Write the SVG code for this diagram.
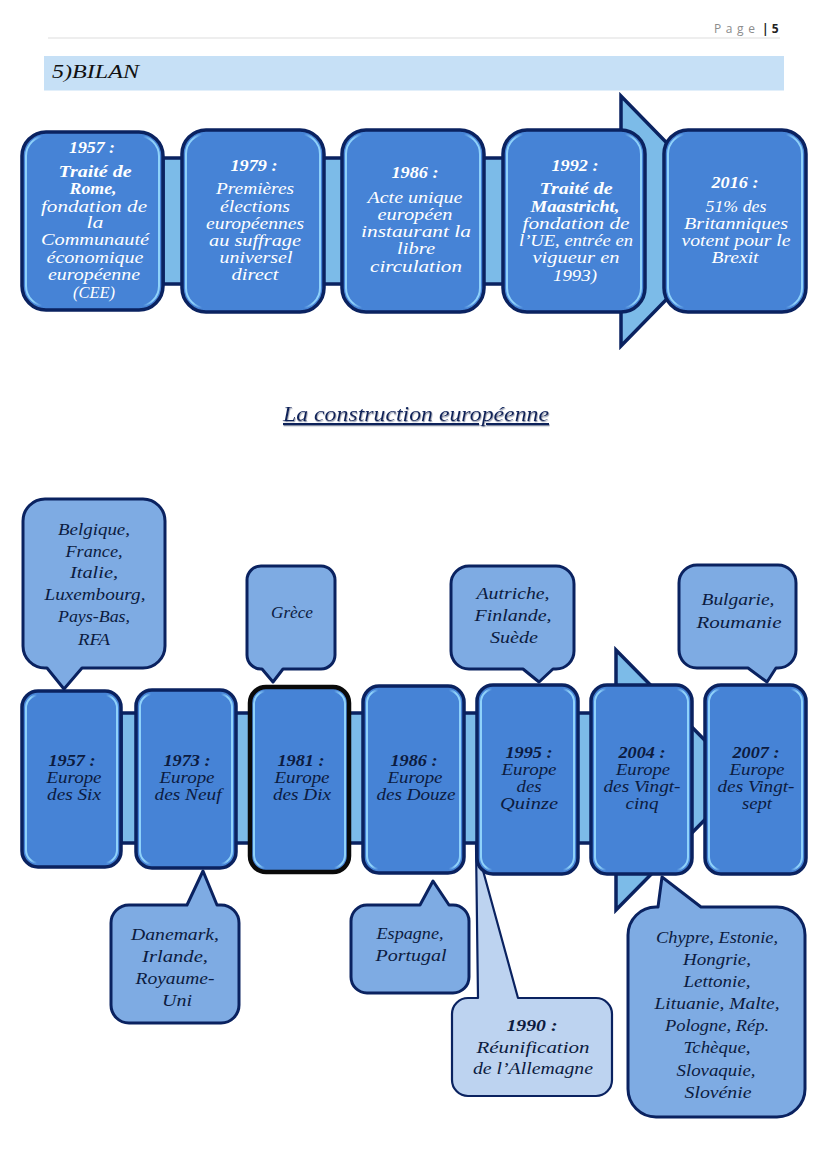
<svg xmlns="http://www.w3.org/2000/svg" width="828" height="1171" viewBox="0 0 828 1171">
<style>
text{font-family:"Liberation Serif","DejaVu Serif",serif;font-style:italic;font-size:16px;text-anchor:middle}
.w{fill:#fff}
.d{fill:#0c1b3f}
.b{font-weight:bold}
.box{fill:#4683d6;stroke:#0a2260;stroke-width:3.5}
.blk{fill:#4683d6;stroke:#0a0a0a;stroke-width:4.5}
.hl{fill:none;stroke:url(#bevel);stroke-width:2}
.bar{fill:#7cbbe8;stroke:#0a2260;stroke-width:3.5;stroke-linejoin:miter}
.co{fill:#7eabe3;stroke:#0a2260;stroke-width:3;stroke-linejoin:round}
.co2{fill:#bdd3f0;stroke:#0a2260;stroke-width:2.2;stroke-linejoin:round}
.hd{font-family:"Open Sans","Liberation Sans",sans-serif;font-style:normal;font-size:12px;text-anchor:start}
</style>
<defs>
<linearGradient id="bevel" x1="0" y1="0" x2="1" y2="0">
<stop offset="0" stop-color="#8fd2fa"/><stop offset="0.05" stop-color="#8fd2fa"/><stop offset="0.12" stop-color="#8fd2fa" stop-opacity="0"/>
<stop offset="0.88" stop-color="#8fd2fa" stop-opacity="0"/><stop offset="0.95" stop-color="#8fd2fa"/><stop offset="1" stop-color="#8fd2fa"/>
</linearGradient>
<filter id="sh" x="-5%" y="-30%" width="110%" height="160%"><feDropShadow dx="0.6" dy="1.2" stdDeviation="0.5" flood-color="#8a93a8"/></filter>
</defs>

<g id="header">
<line x1="48" y1="38" x2="780" y2="38" stroke="#e8e8e8" stroke-width="1.5"/>
<text class="hd" x="714" y="33" fill="#8c8c8c" textLength="41" lengthAdjust="spacing">Page</text>
<text class="hd" x="762" y="33" fill="#222" style="font-weight:bold">| 5</text>
<rect x="44" y="56" width="740" height="34.500" fill="#c6e0f6"/>
<text x="95.500" y="78" style="font-size:19px" fill="#111" textLength="87" lengthAdjust="spacingAndGlyphs">5)BILAN</text>
</g>

<g id="connectors">
<polygon class="bar" points="163,158 621,158 621,96 743,221 621,346 621,284 163,284"/>
<polygon class="bar" points="121,713 616,713 616,650 744,780 616,910 616,843 121,843"/>
</g>

<g id="title"><text x="416" y="421" class="d" style="font-size:21px;text-decoration:underline;fill:#10235a" filter="url(#sh)" textLength="266" lengthAdjust="spacingAndGlyphs">La construction européenne</text></g>

<g id="n1957top">
<rect class="box" x="22" y="132" width="141" height="178" rx="24"/><rect class="hl" x="26" y="136" width="133" height="170" rx="20"/>
<text class="w b" x="92" y="153" textLength="46" lengthAdjust="spacingAndGlyphs">1957 :</text>
<text class="w b" x="95" y="177" textLength="73" lengthAdjust="spacingAndGlyphs">Traité de</text>
<text class="w b" x="93" y="194" textLength="47" lengthAdjust="spacingAndGlyphs">Rome,</text>
<text class="w" x="94" y="212" textLength="106" lengthAdjust="spacingAndGlyphs">fondation de</text>
<text class="w" x="95" y="228" textLength="17" lengthAdjust="spacingAndGlyphs">la</text>
<text class="w" x="95" y="245" textLength="108" lengthAdjust="spacingAndGlyphs">Communauté</text>
<text class="w" x="95" y="263" textLength="97" lengthAdjust="spacingAndGlyphs">économique</text>
<text class="w" x="94" y="280" textLength="92" lengthAdjust="spacingAndGlyphs">européenne</text>
<text class="w" x="94" y="298" textLength="42" lengthAdjust="spacingAndGlyphs">(CEE)</text>
</g>

<g id="n1979">
<rect class="box" x="182" y="130" width="142" height="182" rx="24"/><rect class="hl" x="186" y="134" width="134" height="174" rx="20"/>
<text class="w b" x="254" y="171" textLength="47" lengthAdjust="spacingAndGlyphs">1979 :</text>
<text class="w" x="255" y="194" textLength="78" lengthAdjust="spacingAndGlyphs">Premières</text>
<text class="w" x="255" y="212" textLength="70" lengthAdjust="spacingAndGlyphs">élections</text>
<text class="w" x="255" y="229" textLength="98" lengthAdjust="spacingAndGlyphs">européennes</text>
<text class="w" x="255" y="246" textLength="92" lengthAdjust="spacingAndGlyphs">au suffrage</text>
<text class="w" x="256" y="263" textLength="73" lengthAdjust="spacingAndGlyphs">universel</text>
<text class="w" x="255" y="280" textLength="47" lengthAdjust="spacingAndGlyphs">direct</text>
</g>

<g id="n1986top">
<rect class="box" x="342" y="130" width="142" height="182" rx="24"/><rect class="hl" x="346" y="134" width="134" height="174" rx="20"/>
<text class="w b" x="415" y="178" textLength="47" lengthAdjust="spacingAndGlyphs">1986 :</text>
<text class="w" x="415" y="203" textLength="95" lengthAdjust="spacingAndGlyphs">Acte unique</text>
<text class="w" x="415" y="220" textLength="75" lengthAdjust="spacingAndGlyphs">européen</text>
<text class="w" x="416" y="237" textLength="110" lengthAdjust="spacingAndGlyphs">instaurant la</text>
<text class="w" x="416" y="254" textLength="38" lengthAdjust="spacingAndGlyphs">libre</text>
<text class="w" x="416" y="272" textLength="92" lengthAdjust="spacingAndGlyphs">circulation</text>
</g>

<g id="n1992">
<rect class="box" x="503" y="130" width="142" height="182" rx="24"/><rect class="hl" x="507" y="134" width="134" height="174" rx="20"/>
<text class="w b" x="575" y="171" textLength="47" lengthAdjust="spacingAndGlyphs">1992 :</text>
<text class="w b" x="576" y="194" textLength="73" lengthAdjust="spacingAndGlyphs">Traité de</text>
<text class="w b" x="575" y="212" textLength="89" lengthAdjust="spacingAndGlyphs">Maastricht,</text>
<text class="w" x="576" y="229" textLength="107" lengthAdjust="spacingAndGlyphs">fondation de</text>
<text class="w" x="576" y="246" textLength="114" lengthAdjust="spacingAndGlyphs">l’UE, entrée en</text>
<text class="w" x="576" y="263" textLength="87" lengthAdjust="spacingAndGlyphs">vigueur en</text>
<text class="w" x="575" y="281" textLength="44" lengthAdjust="spacingAndGlyphs">1993)</text>
</g>

<g id="n2016">
<rect class="box" x="664" y="130" width="142" height="182" rx="24"/><rect class="hl" x="668" y="134" width="134" height="174" rx="20"/>
<text class="w b" x="735" y="188" textLength="47" lengthAdjust="spacingAndGlyphs">2016 :</text>
<text class="w" x="736" y="212" textLength="61" lengthAdjust="spacingAndGlyphs">51% des</text>
<text class="w" x="736" y="229" textLength="104" lengthAdjust="spacingAndGlyphs">Britanniques</text>
<text class="w" x="736" y="246" textLength="109" lengthAdjust="spacingAndGlyphs">votent pour le</text>
<text class="w" x="735" y="263" textLength="47" lengthAdjust="spacingAndGlyphs">Brexit</text>
</g>

<g id="c-six">
<path class="co" d="M45,668 H47 L64,689 L82,668 H143 A22,22 0 0 0 165,646 V521 A22,22 0 0 0 143,499 H45 A22,22 0 0 0 23,521 V646 A22,22 0 0 0 45,668 Z"/>
<text class="d" x="94" y="535" textLength="72" lengthAdjust="spacingAndGlyphs">Belgique,</text>
<text class="d" x="94" y="557" textLength="57" lengthAdjust="spacingAndGlyphs">France,</text>
<text class="d" x="94" y="578" textLength="48" lengthAdjust="spacingAndGlyphs">Italie,</text>
<text class="d" x="95" y="600" textLength="101" lengthAdjust="spacingAndGlyphs">Luxembourg,</text>
<text class="d" x="94" y="622" textLength="72" lengthAdjust="spacingAndGlyphs">Pays-Bas,</text>
<text class="d" x="94" y="645" textLength="32" lengthAdjust="spacingAndGlyphs">RFA</text>
</g>
<g id="c-grece">
<path class="co" d="M261,669 H262 L273,682 L283,669 H321 A14,14 0 0 0 335,655 V580 A14,14 0 0 0 321,566 H261 A14,14 0 0 0 247,580 V655 A14,14 0 0 0 261,669 Z"/>
<text class="d" x="292" y="618" textLength="42" lengthAdjust="spacingAndGlyphs">Grèce</text>
</g>
<g id="c-danemark">
<path class="co" d="M129,905 H187 L203,871 L217,905 H221 A18,18 0 0 1 239,923 V1005 A18,18 0 0 1 221,1023 H129 A18,18 0 0 1 111,1005 V923 A18,18 0 0 1 129,905 Z"/>
<text class="d" x="175" y="940" textLength="88" lengthAdjust="spacingAndGlyphs">Danemark,</text>
<text class="d" x="175" y="962" textLength="66" lengthAdjust="spacingAndGlyphs">Irlande,</text>
<text class="d" x="175" y="984" textLength="79" lengthAdjust="spacingAndGlyphs">Royaume-</text>
<text class="d" x="177" y="1006" textLength="30" lengthAdjust="spacingAndGlyphs">Uni</text>
</g>
<g id="c-espagne">
<path class="co" d="M367,905 H420 L433,881 L449,905 H453 A16,16 0 0 1 469,921 V977 A16,16 0 0 1 453,993 H367 A16,16 0 0 1 351,977 V921 A16,16 0 0 1 367,905 Z"/>
<text class="d" x="410" y="939" textLength="67" lengthAdjust="spacingAndGlyphs">Espagne,</text>
<text class="d" x="411" y="961" textLength="71" lengthAdjust="spacingAndGlyphs">Portugal</text>
</g>
<g id="c-1990">
<path class="co2" d="M468,998 H478 L476,845 L518,998 H596 A16,16 0 0 1 612,1014 V1080 A16,16 0 0 1 596,1096 H468 A16,16 0 0 1 452,1080 V1014 A16,16 0 0 1 468,998 Z"/>
<text class="d b" x="532" y="1031" textLength="51" lengthAdjust="spacingAndGlyphs">1990 :</text>
<text class="d" x="533" y="1053" textLength="113" lengthAdjust="spacingAndGlyphs">Réunification</text>
<text class="d" x="533" y="1074" textLength="120" lengthAdjust="spacingAndGlyphs">de l’Allemagne</text>
</g>
<g id="c-chypre">
<path class="co" d="M656,907 H658 L662,877 L701,907 H777 A28,28 0 0 1 805,935 V1089 A28,28 0 0 1 777,1117 H656 A28,28 0 0 1 628,1089 V935 A28,28 0 0 1 656,907 Z"/>
<text class="d" x="717" y="943" textLength="122" lengthAdjust="spacingAndGlyphs">Chypre, Estonie,</text>
<text class="d" x="717" y="965" textLength="68" lengthAdjust="spacingAndGlyphs">Hongrie,</text>
<text class="d" x="717" y="987" textLength="67" lengthAdjust="spacingAndGlyphs">Lettonie,</text>
<text class="d" x="717" y="1009" textLength="125" lengthAdjust="spacingAndGlyphs">Lituanie, Malte,</text>
<text class="d" x="717" y="1031" textLength="104" lengthAdjust="spacingAndGlyphs">Pologne, Rép.</text>
<text class="d" x="717" y="1053" textLength="67" lengthAdjust="spacingAndGlyphs">Tchèque,</text>
<text class="d" x="716" y="1076" textLength="79" lengthAdjust="spacingAndGlyphs">Slovaquie,</text>
<text class="d" x="718" y="1098" textLength="67" lengthAdjust="spacingAndGlyphs">Slovénie</text>
</g>
<g id="c-autriche">
<path class="co" d="M469,669 H523 L539,682 L553,669 H556 A18,18 0 0 0 574,651 V584 A18,18 0 0 0 556,566 H469 A18,18 0 0 0 451,584 V651 A18,18 0 0 0 469,669 Z"/>
<text class="d" x="513" y="599" textLength="73" lengthAdjust="spacingAndGlyphs">Autriche,</text>
<text class="d" x="513" y="621" textLength="77" lengthAdjust="spacingAndGlyphs">Finlande,</text>
<text class="d" x="514" y="643" textLength="48" lengthAdjust="spacingAndGlyphs">Suède</text>
</g>
<g id="c-bulgarie">
<path class="co" d="M697,668 H748 L767,682 L776,668 H778 A18,18 0 0 0 796,650 V583 A18,18 0 0 0 778,565 H697 A18,18 0 0 0 679,583 V650 A18,18 0 0 0 697,668 Z"/>
<text class="d" x="738" y="605" textLength="73" lengthAdjust="spacingAndGlyphs">Bulgarie,</text>
<text class="d" x="739" y="628" textLength="85" lengthAdjust="spacingAndGlyphs">Roumanie</text>
</g>

<g id="n1957">
<rect class="box" x="22" y="691" width="99" height="176" rx="16"/><rect class="hl" x="26" y="695" width="91" height="168" rx="13"/>
<text class="d b" x="72" y="766" textLength="47" lengthAdjust="spacingAndGlyphs">1957 :</text>
<text class="d" x="74" y="783" textLength="55" lengthAdjust="spacingAndGlyphs">Europe</text>
<text class="d" x="74" y="800" textLength="54" lengthAdjust="spacingAndGlyphs">des Six</text>
</g>
<g id="n1973">
<rect class="box" x="136" y="690" width="100" height="178" rx="16"/><rect class="hl" x="140" y="694" width="92" height="170" rx="13"/>
<text class="d b" x="187" y="766" textLength="47" lengthAdjust="spacingAndGlyphs">1973 :</text>
<text class="d" x="187" y="783" textLength="55" lengthAdjust="spacingAndGlyphs">Europe</text>
<text class="d" x="188" y="800" textLength="67" lengthAdjust="spacingAndGlyphs">des Neuf</text>
</g>
<g id="n1981">
<rect class="blk" x="250" y="687" width="99" height="185" rx="16"/><rect class="hl" x="254" y="691" width="91" height="177" rx="13"/>
<text class="d b" x="301" y="766" textLength="47" lengthAdjust="spacingAndGlyphs">1981 :</text>
<text class="d" x="302" y="783" textLength="55" lengthAdjust="spacingAndGlyphs">Europe</text>
<text class="d" x="302" y="800" textLength="58" lengthAdjust="spacingAndGlyphs">des Dix</text>
</g>
<g id="n1986">
<rect class="box" x="363" y="686" width="101" height="187" rx="16"/><rect class="hl" x="367" y="690" width="93" height="179" rx="13"/>
<text class="d b" x="414" y="766" textLength="47" lengthAdjust="spacingAndGlyphs">1986 :</text>
<text class="d" x="415" y="783" textLength="55" lengthAdjust="spacingAndGlyphs">Europe</text>
<text class="d" x="416" y="800" textLength="79" lengthAdjust="spacingAndGlyphs">des Douze</text>
</g>
<g id="n1995">
<rect class="box" x="477" y="685" width="101" height="189" rx="16"/><rect class="hl" x="481" y="689" width="93" height="181" rx="13"/>
<text class="d b" x="529" y="758" textLength="47" lengthAdjust="spacingAndGlyphs">1995 :</text>
<text class="d" x="529" y="775" textLength="55" lengthAdjust="spacingAndGlyphs">Europe</text>
<text class="d" x="529" y="792" textLength="25" lengthAdjust="spacingAndGlyphs">des</text>
<text class="d" x="529" y="809" textLength="58" lengthAdjust="spacingAndGlyphs">Quinze</text>
</g>
<g id="n2004">
<rect class="box" x="591" y="685" width="101" height="189" rx="16"/><rect class="hl" x="595" y="689" width="93" height="181" rx="13"/>
<text class="d b" x="642" y="758" textLength="47" lengthAdjust="spacingAndGlyphs">2004 :</text>
<text class="d" x="643" y="775" textLength="54" lengthAdjust="spacingAndGlyphs">Europe</text>
<text class="d" x="642" y="792" textLength="77" lengthAdjust="spacingAndGlyphs">des Vingt-</text>
<text class="d" x="642" y="809" textLength="33" lengthAdjust="spacingAndGlyphs">cinq</text>
</g>
<g id="n2007">
<rect class="box" x="705" y="685" width="101" height="189" rx="16"/><rect class="hl" x="709" y="689" width="93" height="181" rx="13"/>
<text class="d b" x="756" y="758" textLength="47" lengthAdjust="spacingAndGlyphs">2007 :</text>
<text class="d" x="757" y="775" textLength="55" lengthAdjust="spacingAndGlyphs">Europe</text>
<text class="d" x="756" y="792" textLength="77" lengthAdjust="spacingAndGlyphs">des Vingt-</text>
<text class="d" x="757" y="809" textLength="30" lengthAdjust="spacingAndGlyphs">sept</text>
</g>
</svg>
